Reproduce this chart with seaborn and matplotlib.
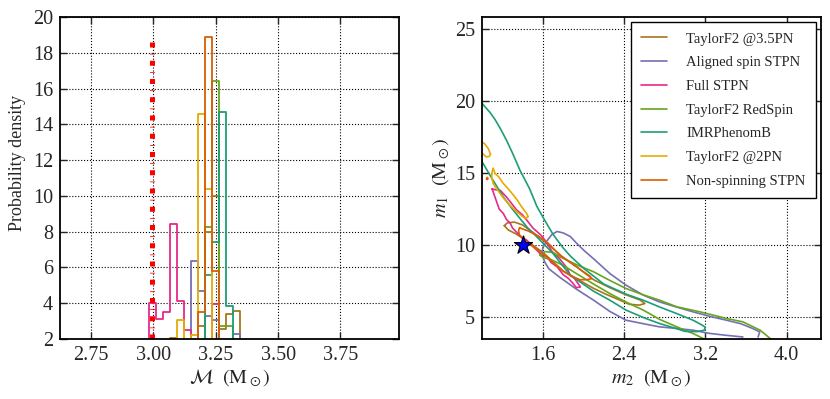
import numpy as np
import pandas as pd
import matplotlib
matplotlib.use("Agg")
import matplotlib.pyplot as plt
import seaborn as sns

# modelos / colores (Dark2)
models = ["TaylorF2 @3.5PN", "Aligned spin STPN", "Full STPN", "TaylorF2 RedSpin",
          "IMRPhenomB", "TaylorF2 @2PN", "Non-spinning STPN"]
dark2 = sns.color_palette("Dark2")
colors = [dark2[i] for i in [6, 2, 3, 4, 0, 5, 1]]

# histograma de masa chirp
mc_edges = [2.956, 2.984, 3.012, 3.040, 3.068, 3.096, 3.124, 3.151, 3.179,
            3.207, 3.235, 3.263, 3.291, 3.319, 3.347, 3.375]
h_tf2_35 = [0, 0, 0, 0, 2.05, 1.0, 0.8, 1.0, 2.7, 8.0, 10.0, 2.55, 3.42, 3.56, 0]
h_aligned = [0, 0, 0, 0, 0, 0.5, 1.2, 6.35, 4.67, 3.26, 3.05, 1.5, 1.0, 2.3, 0]
h_full = [0, 4.0, 3.12, 3.5, 8.43, 4.15, 2.53, 1.2, 1.0, 1.4, 3.95, 1.1, 0.5, 0.2, 0]
h_redspin = [0, 0, 0, 0, 0, 0, 0, 0.5, 1.5, 8.27, 16.4, 2.75, 2.75, 0.8, 0]
h_imrb = [0, 0, 0, 0, 0, 0, 0, 0, 0.5, 5.58, 7.44, 14.7, 3.87, 1.0, 0]
h_tf2_2 = [0, 0, 0, 0, 0.5, 3.05, 1.2, 2.25, 14.6, 10.4, 1.5, 0.5, 0, 0, 0]
h_nonspin = [0, 0, 0, 0, 0, 0, 0.3, 1.0, 3.53, 18.9, 5.8, 1.2, 0.3, 0, 0]
hists = [h_tf2_35, h_aligned, h_full, h_redspin, h_imrb, h_tf2_2, h_nonspin]

mc_true = 2.994
mc_line_top = 18.6

# contornos 90% en (m2, m1)
tf2_35_m2 = [1.22, 1.25, 1.32, 1.40, 1.50, 1.60, 1.70, 1.80, 1.95, 2.10, 2.26, 2.42, 2.556, 2.605,
             2.55, 2.45, 2.36, 2.22, 2.10, 1.95, 1.80, 1.70, 1.60, 1.50, 1.42, 1.33, 1.26, 1.22]
tf2_35_m1 = [11.35, 11.55, 11.6, 11.4, 10.9, 10.35, 9.75, 9.15, 8.4, 7.6, 7.05, 6.55, 6.2, 5.95,
             5.84, 5.9, 6.18, 6.6, 7.0, 7.6, 8.2, 8.85, 9.5, 10.0, 10.4, 10.8, 11.05, 11.35]

aligned_m2 = [3.57, 3.40, 3.24, 3.08, 2.92, 2.75, 2.59, 2.42, 2.26, 2.10, 1.93, 1.77, 1.66, 1.62,
              1.59, 1.60, 1.64, 1.69, 1.74, 1.80, 1.87, 1.93, 2.01, 2.10, 2.26, 2.42, 2.59, 2.75,
              2.92, 3.08, 3.25, 3.41, 3.55, 3.67, 3.736, 3.72]
aligned_m1 = [3.63, 3.75, 3.88, 4.1, 4.22, 4.33, 4.55, 4.79, 5.4, 6.18, 6.95, 7.75, 8.35, 8.8,
              9.4, 9.85, 10.3, 10.75, 10.95, 10.85, 10.6, 10.15, 9.6, 9.05, 8.03, 7.22, 6.53, 6.06,
              5.7, 5.37, 5.05, 4.79, 4.55, 4.21, 3.98, 3.63]

full_m2 = [1.10, 1.13, 1.18, 1.24, 1.28, 1.34, 1.40, 1.44, 1.50, 1.54, 1.58, 1.62, 1.66, 1.70,
           1.76, 1.80, 1.84, 1.87, 1.91, 1.93, 1.97, 1.93, 1.89, 1.85, 1.80, 1.74, 1.68, 1.64,
           1.58, 1.54, 1.49, 1.44, 1.39, 1.34, 1.30, 1.28, 1.24, 1.21, 1.17, 1.15, 1.12, 1.10]
full_m1 = [13.9, 13.85, 13.8, 13.35, 13.0, 12.45, 12.1, 11.75, 11.2, 10.95, 10.7, 10.35, 9.9, 9.45,
           9.1, 8.75, 8.4, 7.9, 7.7, 7.5, 7.1, 7.05, 7.4, 7.7, 7.95, 8.5, 8.8, 9.2,
           9.35, 9.65, 10.0, 10.35, 10.55, 10.9, 11.2, 11.5, 11.8, 12.2, 12.5, 12.9, 13.5, 13.9]

redspin_m2 = [1.57, 1.62, 1.70, 1.77, 1.93, 2.10, 2.26, 2.42, 2.59, 2.75, 2.92, 3.15, 3.41, 3.57,
              3.74, 3.84, 3.90, 3.20, 3.18, 3.08, 2.92, 2.75, 2.59, 2.42, 2.26, 2.10, 1.93, 1.80,
              1.68, 1.60, 1.57]
redspin_m1 = [9.3, 9.55, 9.5, 9.19, 8.65, 8.15, 7.55, 6.99, 6.55, 6.18, 5.72, 5.37, 4.91, 4.68,
              4.1, 3.52, 3.2, 3.3, 3.52, 3.87, 4.33, 4.85, 5.49, 6.05, 6.64, 7.3, 8.03, 8.6,
              9.0, 9.15, 9.3]

imrb_m2 = [0.98, 1.03, 1.08, 1.13, 1.18, 1.24, 1.30, 1.374, 1.47, 1.54, 1.62, 1.70, 1.80, 1.87,
           2.00, 2.10, 2.20, 2.42, 2.60, 2.75, 2.92, 3.08, 3.17, 3.20, 3.19, 3.12, 3.00, 2.92,
           2.75, 2.60, 2.42, 2.26, 2.10, 1.966, 1.867, 1.78, 1.70, 1.62, 1.54, 1.45, 1.374, 1.30,
           1.21, 1.10, 1.00, 0.98]
imrb_m1 = [20.0, 19.6, 19.2, 18.7, 18.1, 17.3, 16.4, 15.2, 13.9, 12.7, 11.7, 10.75, 9.8, 9.25,
           8.4, 7.85, 7.3, 6.6, 6.15, 5.71, 5.25, 4.79, 4.45, 4.3, 4.1, 4.0, 4.02, 4.2,
           4.56, 4.95, 5.49, 6.18, 6.8, 7.45, 7.95, 8.7, 9.42, 10.0, 10.58, 11.2, 11.85, 12.5,
           13.35, 14.6, 15.8, 16.1]

tf2_2_m2_a = [0.98, 1.0, 1.03, 1.062, 1.085, 1.07, 1.04, 1.0, 0.98]
tf2_2_m1_a = [17.3, 17.18, 17.0, 16.7, 16.3, 16.15, 16.13, 16.4, 16.5]
tf2_2_m2_b = [1.111, 1.128, 1.17, 1.21, 1.26, 1.31, 1.35, 1.39, 1.44, 1.456, 1.424, 1.38, 1.342,
              1.30, 1.26, 1.22, 1.177, 1.14, 1.111, 1.095, 1.10, 1.111]
tf2_2_m1_b = [15.33, 14.98, 14.7, 14.28, 13.9, 13.47, 13.1, 12.66, 12.2, 11.97, 11.86, 12.1, 12.31,
              12.6, 12.89, 13.2, 13.6, 13.95, 14.28, 14.7, 15.1, 15.33]

nonspin_m2_a = [1.045, 1.052, 1.06, 1.052, 1.045]
nonspin_m1_a = [14.6, 14.7, 14.62, 14.55, 14.6]
nonspin_m2_b = [1.37, 1.45, 1.55, 1.65, 1.768, 1.85, 1.933, 2.00, 2.064, 2.08, 2.03, 1.966, 1.88,
                1.80, 1.70, 1.60, 1.52, 1.43, 1.37, 1.36, 1.37]
nonspin_m1_b = [11.2, 11.0, 10.65, 10.15, 9.3, 8.9, 8.5, 8.15, 7.85, 7.68, 7.6, 7.6, 7.85,
                8.2, 8.8, 9.4, 9.8, 10.3, 10.7, 11.0, 11.2]

contours = [
    [(tf2_35_m2, tf2_35_m1)],
    [(aligned_m2, aligned_m1)],
    [(full_m2, full_m1)],
    [(redspin_m2, redspin_m1)],
    [(imrb_m2, imrb_m1)],
    [(tf2_2_m2_a, tf2_2_m1_a), (tf2_2_m2_b, tf2_2_m1_b)],
    [(nonspin_m2_a, nonspin_m1_a), (nonspin_m2_b, nonspin_m1_b)],
]

m2_true = 1.4
m1_true = 10.0

# estilo
sns.set_style("white", {"xtick.direction": "in", "ytick.direction": "in"})
plt.rcParams["font.family"] = ["Liberation Serif", "DejaVu Serif"]
plt.rcParams["mathtext.fontset"] = "stix"
plt.rcParams["axes.edgecolor"] = "black"
plt.rcParams["axes.linewidth"] = 1.3

fig = plt.figure(figsize=(8.3, 3.99), dpi=100)
ax1 = fig.add_axes([0.0723, 0.1504, 0.4084, 0.807])
ax2 = fig.add_axes([0.5807, 0.1504, 0.4085, 0.807])

# panel izquierdo
centers = (np.array(mc_edges[:-1]) + np.array(mc_edges[1:])) / 2
for name, h, c in zip(models, hists, colors):
    sns.histplot(x=centers, weights=h, bins=mc_edges, element="step", fill=False,
                 color=c, lw=1.3, ax=ax1)
ax1.plot([mc_true, mc_true], [2, mc_line_top], color="red", lw=3.6,
         linestyle=(0, (1.0, 1.25, 0.15, 1.25)), dash_capstyle="butt")
ax1.set_xlim(2.625, 3.985)
ax1.set_ylim(2, 20)
ax1.set_xticks([2.75, 3.00, 3.25, 3.50, 3.75])
ax1.set_xticklabels(["2.75", "3.00", "3.25", "3.50", "3.75"])
ax1.set_yticks(range(2, 21, 2))
ax1.set_xlabel(r"$\mathcal{M}\ \ (\mathrm{M}_\odot)$", fontsize=14.5, labelpad=2)
ax1.set_ylabel("Probability density", fontsize=13)
ax1.yaxis.set_label_coords(-0.10, 0.547)

# panel derecho
for name, pieces, c in zip(models, contours, colors):
    for k, (xs, ys) in enumerate(pieces):
        sns.lineplot(x=xs, y=ys, sort=False, estimator=None, color=c, lw=1.2,
                     label=name if k == 0 else None, ax=ax2)
sns.scatterplot(x=[m2_true], y=[m1_true], marker="*", s=190, color="blue",
                edgecolor="black", linewidth=0.8, zorder=5, ax=ax2)
ax2.set_xlim(1.0, 4.34)
ax2.set_ylim(3.49, 25.83)
ax2.set_xticks([1.6, 2.4, 3.2, 4.0])
ax2.set_yticks([5, 10, 15, 20, 25])
ax2.set_xlabel(r"$m_2\ \ (\mathrm{M}_\odot)$", fontsize=14.5, labelpad=2)
ax2.set_ylabel(r"$m_1\ \ (\mathrm{M}_\odot)$", fontsize=14.5, labelpad=2)
leg = ax2.legend(loc="upper right", fontsize=10.5, frameon=True, fancybox=False,
                 framealpha=1, edgecolor="black", handlelength=1.8, handletextpad=1.3,
                 labelspacing=0.72, borderaxespad=0.35, borderpad=0.7)
leg.get_frame().set_linewidth(1.0)

for ax in (ax1, ax2):
    ax.grid(True, color="black", linestyle=":", lw=0.8)
    ax.set_axisbelow(True)
    ax.tick_params(labelsize=14.5, length=5, width=1, direction="in",
                   top=True, right=True, bottom=True, left=True, pad=5)
    for s in ax.spines.values():
        s.set_visible(True)
        s.set_color("black")

fig.savefig("out.png", dpi=100)
